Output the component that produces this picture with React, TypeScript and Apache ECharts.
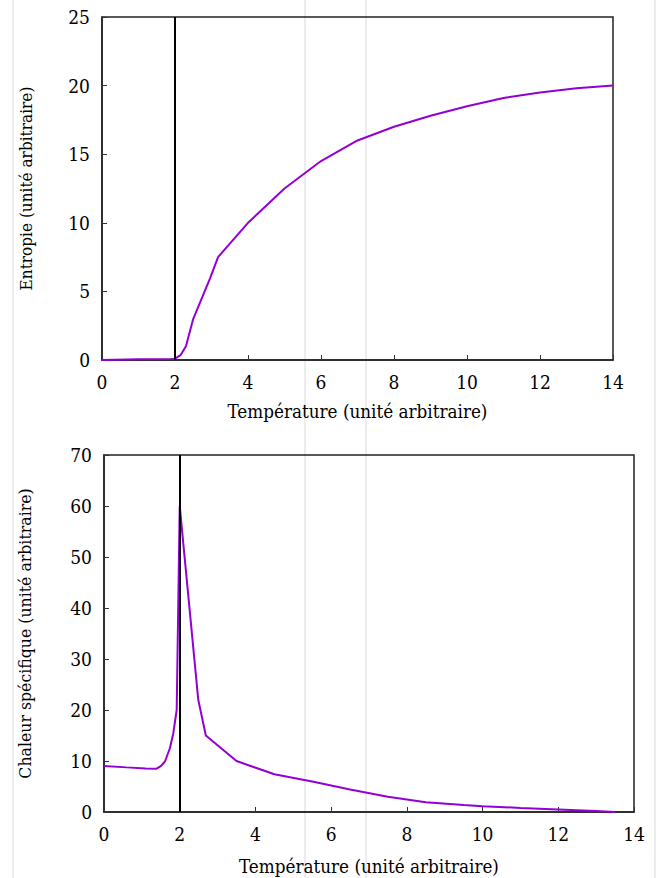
import React, { useEffect, useRef } from "react";
import * as echarts from "echarts";

const entropyT = [0, 1, 1.9, 2.0, 2.15, 2.3, 2.5, 2.75, 2.96, 3.18, 4, 5, 6, 7, 8, 9, 10, 11, 12, 13, 14];
const entropyS = [0, 0.05, 0.08, 0.1, 0.35, 1.0, 3.0, 4.6, 5.95, 7.5, 10, 12.5, 14.5, 16, 17, 17.8, 18.5, 19.1, 19.5, 19.8, 20];

const heatT = [0, 0.6, 1.1, 1.39, 1.5, 1.61, 1.74, 1.83, 1.92, 2.0, 2.49, 2.69, 3.5, 4.5, 5.5, 6.5, 7.5, 8.5, 9.5, 10, 11, 12, 13, 13.5];
const heatC = [9.0, 8.75, 8.55, 8.5, 9.0, 9.9, 12.5, 15.4, 20, 60, 22, 15, 10, 7.4, 6.0, 4.4, 3.0, 1.9, 1.35, 1.15, 0.8, 0.5, 0.2, 0];

const xTicks = [0, 2, 4, 6, 8, 10, 12, 14];
const criticalT = 2;

const xTitle = "Température (unité arbitraire)";
const yTitleTop = "Entropie (unité arbitraire)";
const yTitleBottom = "Chaleur spécifique (unité arbitraire)";

const FONT = "DejaVu Serif Condensed";
const PURPLE = "#9400D3";

export default function App() {
  const ref = useRef<HTMLDivElement>(null);
  useEffect(() => {
    if (!ref.current) return;
    const chart = echarts.init(ref.current, undefined, { renderer: "svg" });
    const axisLabel = { color: "#000", fontFamily: FONT, fontSize: 19, margin: 12 };
    const axisTick = { inside: true, length: 5, lineStyle: { color: "#333", width: 1 } };
    const axisLine = { show: true, lineStyle: { color: "#222", width: 1.5 } };
    const nameStyle = { color: "#000", fontFamily: FONT, fontSize: 18.7 };
    const mkX = (gridIndex: number, gap: number) => ({
      type: "value",
      gridIndex,
      min: xTicks[0],
      max: xTicks[xTicks.length - 1],
      interval: 2,
      axisLabel,
      axisTick,
      axisLine,
      splitLine: { show: false },
      name: xTitle,
      nameLocation: "middle",
      nameGap: gap,
      nameTextStyle: nameStyle,
    });
    const mkY = (gridIndex: number, max: number, interval: number, name: string, gap: number, fs: number) => ({
      type: "value",
      gridIndex,
      min: 0,
      max,
      interval,
      axisLabel,
      axisTick,
      axisLine,
      splitLine: { show: false },
      name,
      nameLocation: "middle",
      nameGap: gap,
      nameTextStyle: { ...nameStyle, fontSize: fs },
    });
    const vline = {
      silent: true,
      symbol: "none",
      label: { show: false },
      lineStyle: { color: "#000", width: 2, type: "solid" },
      data: [{ xAxis: criticalT }],
    };
    const bgLine = (x: number) => ({
      type: "line",
      z: -10,
      silent: true,
      shape: { x1: x, y1: 0, x2: x, y2: 878 },
      style: { stroke: "#ececec", lineWidth: 2 },
    });
    chart.setOption({
      animation: false,
      backgroundColor: "#fff",
      textStyle: { fontFamily: FONT },
      graphic: [bgLine(13), bgLine(305), bgLine(366), bgLine(655)],
      grid: [
        { left: 102, top: 17, width: 511, height: 343, show: true, borderColor: "#222", borderWidth: 1.5, backgroundColor: "transparent" },
        { left: 104, top: 455, width: 530, height: 357, show: true, borderColor: "#222", borderWidth: 1.5, backgroundColor: "transparent" },
      ],
      xAxis: [mkX(0, 42), mkX(1, 45)],
      yAxis: [mkY(0, 25, 5, yTitleTop, 68, 17), mkY(1, 70, 10, yTitleBottom, 70, 17.5)],
      series: [
        {
          type: "line",
          xAxisIndex: 0,
          yAxisIndex: 0,
          data: entropyT.map((t, i) => [t, entropyS[i]]),
          showSymbol: false,
          lineStyle: { color: PURPLE, width: 2 },
          itemStyle: { color: PURPLE },
          markLine: vline,
        },
        {
          type: "line",
          xAxisIndex: 1,
          yAxisIndex: 1,
          data: heatT.map((t, i) => [t, heatC[i]]),
          showSymbol: false,
          lineStyle: { color: PURPLE, width: 2 },
          itemStyle: { color: PURPLE },
          markLine: vline,
        },
      ],
    });
    return () => chart.dispose();
  }, []);
  return (
    <div
      ref={ref}
      style={{ position: "fixed", left: 0, top: 0, width: 660, height: 878 }}
    />
  );
}
